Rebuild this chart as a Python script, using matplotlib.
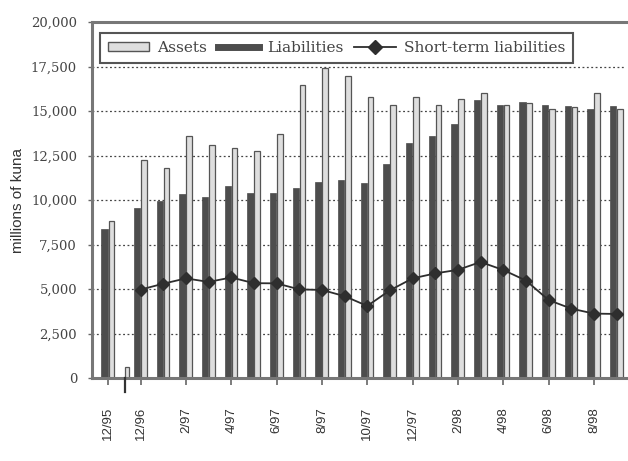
import numpy as np
import matplotlib
matplotlib.use("Agg")
import matplotlib.pyplot as plt
from matplotlib.patches import Patch
from matplotlib.lines import Line2D
from matplotlib.ticker import FuncFormatter, MultipleLocator

# monthly series, millions of kuna (12/95, then 12/96 .. 9/98)
months = ["12/95", "12/96", "1/97", "2/97", "3/97", "4/97", "5/97", "6/97", "7/97",
          "8/97", "9/97", "10/97", "11/97", "12/97", "1/98", "2/98", "3/98", "4/98",
          "5/98", "6/98", "7/98", "8/98", "9/98"]
assets = [8800, 12250, 11800, 13600, 13100, 12950, 12780, 13700, 16450, 17400, 17000,
          15800, 15350, 15800, 15370, 15700, 16000, 15320, 15450, 15130, 15220, 16000, 15130]
liabilities = [8350, 9550, 9950, 10330, 10180, 10780, 10400, 10400, 10670, 11000, 11120,
               10950, 12000, 13220, 13600, 14280, 15600, 15370, 15500, 15350, 15260, 15130, 15300]
short_term = [None, 4970, 5300, 5600, 5400, 5650, 5330, 5320, 4980, 4950, 4600,
              4050, 4930, 5600, 5880, 6080, 6520, 6070, 5480, 4380, 3900, 3620, 3600]
xtick_labels = ["12/95", "12/96", "2/97", "4/97", "6/97", "8/97", "10/97",
                "12/97", "2/98", "4/98", "6/98", "8/98"]
# gap between 12/95 and 12/96 with a small break stub
break_pos = 0.73
break_height = 600
gap = 1.43

x = np.array([0.0] + [gap + i for i in range(len(months) - 1)])

LIGHT = "#dedede"
DARK = "#4d4d4d"
EDGE = "#555555"

fig = plt.figure(figsize=(6.28, 4.61), dpi=100)
ax = fig.add_axes([0.147, 0.18, 0.85, 0.772])

ax.bar(x - 0.15, liabilities, width=0.29, color=DARK, edgecolor=DARK, linewidth=0.5, zorder=2)
ax.bar(x + 0.14, assets, width=0.25, color=LIGHT, edgecolor=EDGE, linewidth=0.9, zorder=2)

# axis break stub
ax.bar([break_pos + 0.1], [break_height], width=0.22, color=LIGHT, edgecolor=EDGE,
       linewidth=0.9, zorder=2)
ax.plot([break_pos, break_pos], [0, -800], color="#333333", lw=1.6, clip_on=False, zorder=3)

st_x = [xi for xi, v in zip(x, short_term) if v is not None]
st_y = [v for v in short_term if v is not None]
ax.plot(st_x, st_y, color="#2e2e2e", lw=1.3, marker="D", markersize=6.5,
        markerfacecolor="#2e2e2e", markeredgecolor="#2e2e2e", zorder=4)

ax.set_ylim(0, 20000)
ax.set_xlim(-0.7, 22.85)
ax.yaxis.set_major_locator(MultipleLocator(2500))
ax.yaxis.set_major_formatter(FuncFormatter(lambda v, p: f"{int(v):,}"))
ax.grid(axis="y", linestyle=(0, (1.5, 2.0)), color="#444444", linewidth=0.9, zorder=1)

label_pos = [x[months.index(m)] for m in xtick_labels]
ax.set_xticks(label_pos)
ax.set_xticklabels(xtick_labels, rotation=90, fontsize=9.5, color="#333333",
                   family="Liberation Sans")
ax.tick_params(axis="x", length=5, width=1.2, color="#666666", pad=16)
ax.tick_params(axis="y", length=3, width=1, color="#666666", pad=8)
for lab in ax.get_yticklabels():
    lab.set_family("DejaVu Serif")
    lab.set_fontsize(9.5)
    lab.set_color("#444444")

ax.set_ylabel("millions of kuna", fontsize=11, color="#333333", family="Liberation Sans",
              labelpad=4)

for s in ["left", "top", "right", "bottom"]:
    ax.spines[s].set_color("#777777")
    ax.spines[s].set_linewidth(2.2)
ax.spines["right"].set_visible(False)

handles = [
    Patch(facecolor=LIGHT, edgecolor=EDGE, linewidth=1.0),
    Line2D([0], [0], color=DARK, lw=5),
    Line2D([0], [0], color="#2e2e2e", lw=1.3, marker="D", markersize=7),
]
leg = ax.legend(handles, ["Assets", "Liabilities", "Short-term liabilities"], ncol=3,
                loc="upper left", bbox_to_anchor=(0.0, 0.99), frameon=True,
                fancybox=False, framealpha=1, edgecolor="#555555", handlelength=2.7,
                handleheight=0.5, columnspacing=0.7, handletextpad=0.5, borderpad=0.5,
                prop={"family": "DejaVu Serif", "size": 11.1})
leg.get_frame().set_linewidth(1.5)
for t in leg.get_texts():
    t.set_color("#444444")

fig.savefig("out.png", dpi=100)
